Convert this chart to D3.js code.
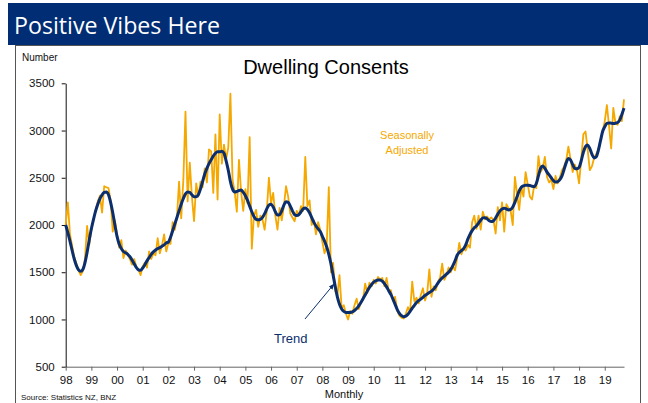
<!DOCTYPE html>
<html>

<head>
    <meta charset="utf-8">
    <script src="https://cdn.jsdelivr.net/npm/d3@7"></script>
    <style>
        body { margin: 0; background: #fff; }
        text { font-family: "Liberation Sans", Arial, sans-serif; }
    </style>
</head>

<body>
    <div id="chart"></div>

    <script>

        // monthly, Jan 1998 .. Oct 2019
        const startYear = 1998;

        const seasonallyAdjusted = [
            2000, 2240, 1900, 1780, 1660, 1590, 1520, 1470, 1510, 1640, 1990, 1790, // 98
            1950, 2060, 2160, 2250, 2310, 2130, 2410, 2400, 2390, 2260, 1930, 2050, // 99
            1900, 1760, 1840, 1650, 1730, 1690, 1640, 1580, 1640, 1560, 1530, 1470, // 00
            1560, 1600, 1550, 1720, 1640, 1700, 1680, 1860, 1700, 1780, 1900, 1720, // 01
            1810, 1800, 2030, 1950, 2080, 2460, 2070, 2480, 3200, 2250, 2660, 2300, // 02
            2040, 2440, 2300, 2460, 2400, 2600, 2450, 2800, 2780, 2340, 2960, 2270, // 03
            3170, 2650, 2850, 2700, 2820, 3390, 2480, 2350, 2140, 2690, 2350, 2150, // 04
            2380, 2230, 2930, 1750, 2100, 2160, 1980, 2100, 2060, 1950, 2150, 2500, // 05
            2230, 2340, 2100, 1950, 2180, 2050, 2200, 2410, 2300, 2120, 2080, 2040, // 06
            2150, 2100, 2200, 2150, 2720, 2200, 2260, 2000, 2050, 1900, 2030, 1950, // 07
            1820, 1700, 1780, 2400, 1500, 1600, 1300, 1250, 1470, 1120, 1150, 1060, // 08
            1000, 1090, 1060, 1150, 1220, 1110, 1180, 1210, 1380, 1280, 1390, 1350, // 09
            1420, 1380, 1450, 1420, 1440, 1350, 1440, 1300, 1310, 1200, 1240, 1090, // 10
            1040, 1020, 1010, 1060, 1130, 1080, 1400, 1190, 1230, 1170, 1260, 1330, // 11
            1200, 1280, 1530, 1240, 1350, 1310, 1400, 1440, 1590, 1420, 1470, 1550, // 12
            1500, 1560, 1520, 1650, 1810, 1690, 1750, 1730, 1790, 1760, 2030, 2100, // 13
            1960, 2100, 1950, 2140, 2060, 2090, 2060, 2080, 2050, 1910, 2190, 2050, // 14
            2240, 1930, 2220, 2180, 2150, 2000, 2510, 2330, 2160, 2400, 2300, 2560, // 15
            2430, 2300, 2270, 2420, 2390, 2730, 2560, 2600, 2720, 2510, 2450, 2480, // 16
            2380, 2520, 2440, 2500, 2580, 2620, 2690, 2830, 2700, 2560, 2640, 2580, // 17
            2440, 2700, 2960, 2990, 2800, 2580, 2620, 2710, 2750, 2800, 2900, 2990, // 18
            3100, 3270, 3050, 2810, 3240, 3080, 3060, 3150, 3100, 3330              // 19
        ];

        const trend = [
            2000, 1920, 1830, 1730, 1640, 1570, 1525, 1510, 1530, 1600, 1710, 1840, // 98
            1960, 2060, 2150, 2220, 2280, 2320, 2345, 2350, 2320, 2240, 2130, 2000, // 99
            1880, 1800, 1750, 1720, 1705, 1690, 1665, 1630, 1590, 1550, 1525, 1520, // 00
            1545, 1580, 1620, 1655, 1690, 1715, 1735, 1750, 1760, 1775, 1790, 1810, // 01
            1820, 1870, 1940, 2010, 2080, 2150, 2220, 2280, 2330, 2350, 2345, 2320, // 02
            2300, 2300, 2320, 2380, 2460, 2540, 2600, 2650, 2690, 2730, 2760, 2775, // 03
            2775, 2780, 2760, 2680, 2580, 2460, 2380, 2350, 2355, 2365, 2370, 2345, // 04
            2310, 2260, 2200, 2140, 2090, 2060, 2055, 2060, 2080, 2120, 2170, 2210, // 05
            2220, 2190, 2140, 2105, 2110, 2150, 2210, 2245, 2240, 2200, 2150, 2110, // 06
            2100, 2110, 2140, 2170, 2180, 2165, 2130, 2080, 2030, 1990, 1960, 1930, // 07
            1880, 1830, 1770, 1690, 1590, 1470, 1350, 1240, 1160, 1110, 1085, 1075, // 08
            1075, 1075, 1080, 1095, 1115, 1145, 1180, 1220, 1260, 1300, 1340, 1370, // 09
            1395, 1410, 1418, 1418, 1405, 1380, 1345, 1305, 1265, 1215, 1160, 1105, // 10
            1065, 1040, 1030, 1035, 1055, 1085, 1120, 1150, 1180, 1200, 1215, 1235, // 11
            1255, 1270, 1285, 1300, 1320, 1350, 1385, 1415, 1440, 1460, 1480, 1500, // 12
            1530, 1570, 1620, 1680, 1710, 1730, 1750, 1790, 1850, 1900, 1940, 1970, // 13
            1990, 2020, 2050, 2075, 2078, 2065, 2045, 2036, 2045, 2075, 2115, 2150, // 14
            2170, 2177, 2170, 2160, 2165, 2190, 2240, 2300, 2360, 2400, 2415, 2420, // 15
            2422, 2418, 2410, 2406, 2440, 2520, 2600, 2625, 2600, 2560, 2530, 2500, // 16
            2470, 2455, 2460, 2480, 2520, 2590, 2660, 2705, 2690, 2640, 2600, 2595, // 17
            2610, 2680, 2770, 2830, 2848, 2810, 2750, 2710, 2720, 2790, 2890, 2990, // 18
            3040, 3075, 3080, 3078, 3075, 3078, 3085, 3110, 3170, 3237              // 19
        ];

        const yTicks = [500, 1000, 1500, 2000, 2500, 3000, 3500];
        const xTickYears = d3.range(1998, 2020);

        const width = 648, height = 403;
        const plot = { left: 65.7, right: 624, top: 83.3, bottom: 366.7 };

        const navy = "#0b2f6e";
        const orange = "#f5a800";

        const svg = d3.select("#chart")
            .append("svg")
            .attr("width", width)
            .attr("height", height);

        svg.append("rect")
            .attr("width", width).attr("height", height)
            .attr("fill", "#fff");

        // header bar
        svg.append("rect")
            .attr("x", 8).attr("y", 3)
            .attr("width", width - 8).attr("height", 42)
            .attr("fill", "#002d74");

        svg.append("text")
            .attr("x", 14).attr("y", 34)
            .attr("fill", "#fff")
            .style("font-family", "'Open Sans', sans-serif")
            .style("font-weight", 400)
            .style("font-size", "23px")
            .attr("textLength", 206)
            .attr("lengthAdjust", "spacingAndGlyphs")
            .text("Positive Vibes Here");

        // chart frame
        svg.append("rect")
            .attr("x", 15.5).attr("y", 45.5)
            .attr("width", 625).attr("height", 380)
            .attr("fill", "none")
            .attr("stroke", "#555")
            .attr("stroke-width", 1);

        svg.append("text")
            .attr("x", 22).attr("y", 61)
            .style("font-size", "10px")
            .attr("fill", "#111")
            .text("Number");

        svg.append("text")
            .attr("x", 326).attr("y", 74)
            .attr("text-anchor", "middle")
            .style("font-size", "20px")
            .attr("fill", "#000")
            .text("Dwelling Consents");

        const x = d3.scaleLinear()
            .domain([startYear, startYear + 21.75])
            .range([plot.left, plot.right]);

        const y = d3.scaleLinear()
            .domain([500, 3500])
            .range([plot.bottom, plot.top]);

        const xAxis = svg.append("g")
            .attr("transform", `translate(0,${plot.bottom})`)
            .call(d3.axisBottom(x)
                .tickValues(xTickYears)
                .tickFormat(d => String(d % 100).padStart(2, "0"))
                .tickSize(4)
                .tickSizeOuter(0));
        xAxis.select(".domain").attr("stroke", "#666");
        xAxis.selectAll(".tick line").attr("stroke", "#666");
        xAxis.selectAll(".tick text")
            .attr("dy", "0.71em")
            .attr("y", 9)
            .style("font-size", "11.5px")
            .attr("fill", "#111");

        const yAxis = svg.append("g")
            .attr("transform", `translate(${plot.left},0)`)
            .call(d3.axisLeft(y)
                .tickValues(yTicks)
                .tickFormat(d3.format("d"))
                .tickSize(4)
                .tickSizeOuter(0));
        yAxis.select(".domain").attr("stroke", "#111");
        yAxis.selectAll(".tick line").attr("stroke", "#111");
        yAxis.selectAll(".tick text")
            .attr("x", -11)
            .style("font-size", "11.5px")
            .attr("fill", "#111");
        yAxis.selectAll("text").style("font-family", "'Liberation Sans', Arial, sans-serif");
        xAxis.selectAll("text").style("font-family", "'Liberation Sans', Arial, sans-serif");

        const monthX = (d, i) => x(startYear + i / 12);

        const line = d3.line()
            .x(monthX)
            .y(d => y(d));

        svg.append("path")
            .datum(seasonallyAdjusted)
            .attr("fill", "none")
            .attr("stroke", orange)
            .attr("stroke-width", 1.8)
            .attr("stroke-linejoin", "round")
            .attr("d", line);

        svg.append("path")
            .datum(trend)
            .attr("fill", "none")
            .attr("stroke", navy)
            .attr("stroke-width", 3)
            .attr("stroke-linejoin", "round")
            .attr("d", line.curve(d3.curveMonotoneX));

        // labels
        svg.append("text")
            .attr("x", 407).attr("y", 139)
            .attr("text-anchor", "middle")
            .style("font-size", "11px")
            .attr("fill", orange)
            .text("Seasonally");
        svg.append("text")
            .attr("x", 407).attr("y", 154)
            .attr("text-anchor", "middle")
            .style("font-size", "11px")
            .attr("fill", orange)
            .text("Adjusted");

        svg.append("text")
            .attr("x", 274).attr("y", 343)
            .style("font-size", "13px")
            .attr("fill", navy)
            .text("Trend");

        svg.append("defs").append("marker")
            .attr("id", "arrow")
            .attr("viewBox", "0 0 10 10")
            .attr("refX", 9).attr("refY", 5)
            .attr("markerWidth", 6).attr("markerHeight", 6)
            .attr("orient", "auto")
            .append("path")
            .attr("d", "M0,1 L10,5 L0,9 z")
            .attr("fill", navy);

        svg.append("line")
            .attr("x1", 305).attr("y1", 319)
            .attr("x2", 334).attr("y2", 284)
            .attr("stroke", navy)
            .attr("stroke-width", 1)
            .attr("marker-end", "url(#arrow)");

        svg.append("text")
            .attr("x", 344).attr("y", 398)
            .attr("text-anchor", "middle")
            .style("font-size", "11px")
            .attr("fill", "#111")
            .text("Monthly");

        svg.append("text")
            .attr("x", 21).attr("y", 400)
            .style("font-size", "8px")
            .attr("fill", "#111")
            .text("Source: Statistics NZ, BNZ");

    </script>
</body>

</html>
